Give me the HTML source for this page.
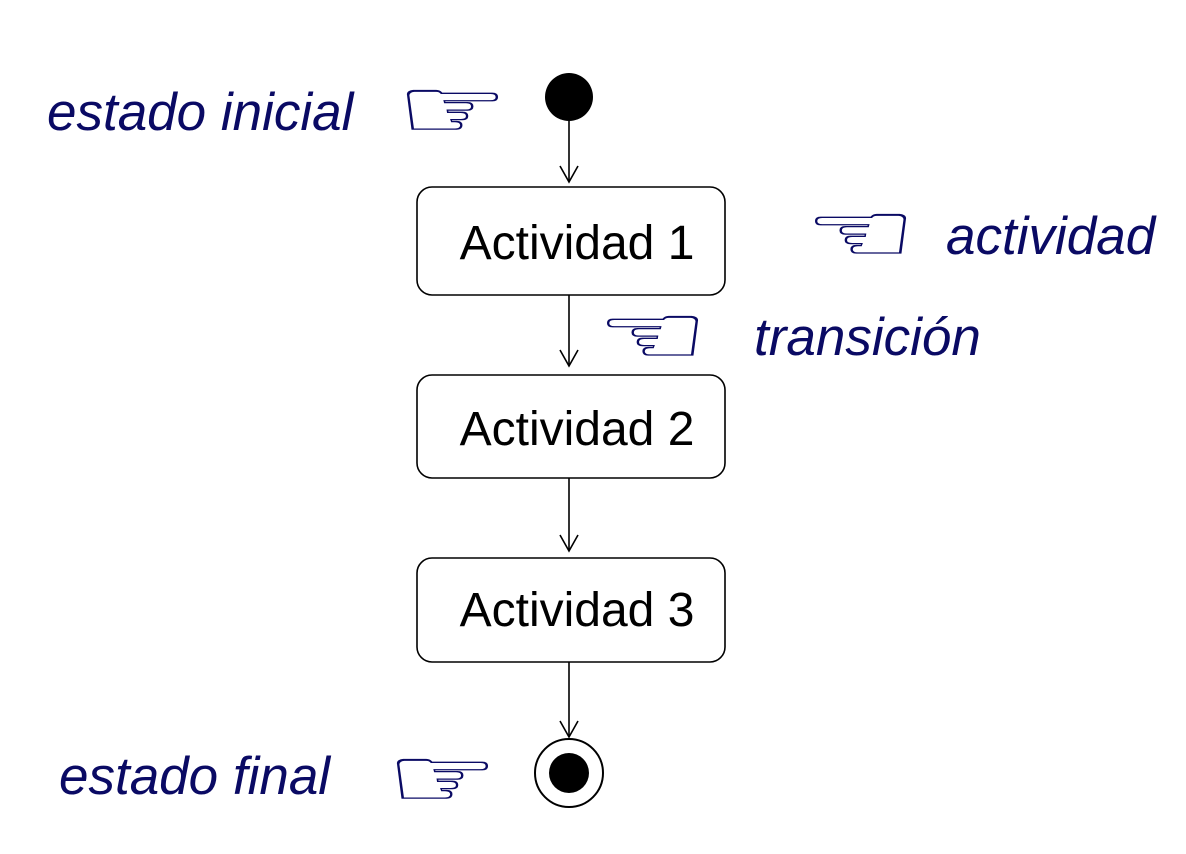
<!DOCTYPE html>
<html><head><meta charset="utf-8"><style>
body{margin:0;width:1186px;height:854px;background:#fff;position:relative;overflow:hidden}
.l{position:absolute;font-family:"Liberation Sans",sans-serif;font-style:italic;color:#0a0a64;font-size:53px;line-height:1;white-space:nowrap}
.h{position:absolute;font-family:"DejaVu Sans",sans-serif;color:#0a0a64;font-size:84px;line-height:1;white-space:nowrap;transform:scale(1.5,1.02);transform-origin:0 0}
</style></head><body>
<svg width="1186" height="854" style="position:absolute;left:0;top:0">
<circle cx="569" cy="97" r="24" fill="#000"/>
<g stroke="#000" stroke-width="1.6" fill="none">
<line x1="569" y1="121" x2="569" y2="182"/><path d="M560 166 L569 182 L578 166"/>
<line x1="569" y1="295" x2="569" y2="366"/><path d="M560 350 L569 366 L578 350"/>
<line x1="569" y1="478" x2="569" y2="551"/><path d="M560 535 L569 551 L578 535"/>
<line x1="569" y1="662" x2="569" y2="737"/><path d="M560 721 L569 737 L578 721"/>
<rect x="417" y="187" width="308" height="108" rx="15"/>
<rect x="417" y="375" width="308" height="103" rx="15"/>
<rect x="417" y="558" width="308" height="104" rx="15"/>
<circle cx="569" cy="773" r="34" stroke-width="2"/>
</g>
<circle cx="569" cy="773" r="20" fill="#000"/>
<g font-family="Liberation Sans, sans-serif" font-size="48" fill="#000" text-anchor="middle">
<text x="577" y="259">Actividad 1</text>
<text x="577" y="445">Actividad 2</text>
<text x="577" y="626">Actividad 3</text>
</g>
</svg>
<div class="l" style="left:47px;top:86px">estado inicial</div>
<div class="l" style="left:946px;top:210px">actividad</div>
<div class="l" style="left:754px;top:311px">transición</div>
<div class="l" style="left:59px;top:750px">estado final</div>
<div class="h" style="left:396px;top:66px">☞</div>
<div class="h" style="left:804px;top:190px">☜</div>
<div class="h" style="left:596px;top:292px">☜</div>
<div class="h" style="left:386px;top:735px">☞</div>
</body></html>
